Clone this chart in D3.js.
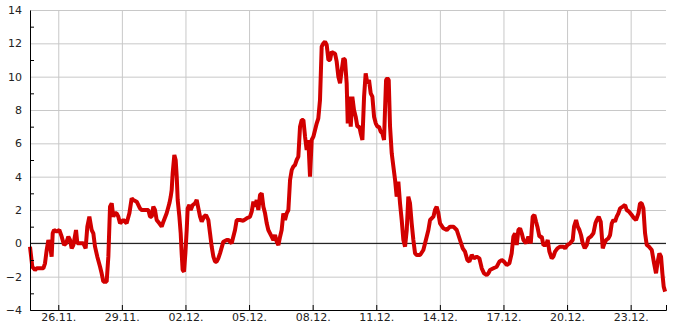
<!DOCTYPE html>
<html>
<head>
<meta charset="utf-8">
<style>
  body { margin: 0; background: #fff; }
  svg text { font-family: "DejaVu Sans", sans-serif; font-size: 11px; fill: #222; }
</style>
</head>
<body>
<svg id="chart" width="685" height="330"></svg>
<script src="https://cdn.jsdelivr.net/npm/d3@7"></script>
<script>

// hours since 24.11. 16:00
var hours = [0, 2.6, 5.7, 7.5, 11.3, 15.1, 17.0, 18.9, 20.8, 22.6, 24.5, 25.7, 27.2, 30.2, 33.2, 35.9,
  38.5, 40.8, 43.4, 45.3, 47.2, 49.1, 52.1, 53.6, 56.6, 60.4, 63.0, 64.9, 67.2, 69.8, 71.7, 73.6,
  76.2, 79.3, 81.1, 83.0, 86.8, 88.7, 90.6, 92.5, 94.3, 96.2, 98.1, 100.0, 101.9, 105.7, 109.4, 112.5,
  115.1, 117.0, 120.8, 124.5, 126.4, 130.2, 134.0, 135.9, 137.8, 139.6, 141.5, 143.4, 146.4, 149.1,
  151.0, 154.7, 157.8, 159.3, 160.4, 161.5, 163.4, 164.9, 166.1, 167.2, 169.1, 170.6, 171.7, 172.8,
  174.4, 175.9, 177.4, 178.5, 180.4, 181.9, 184.2, 186.8, 188.7, 190.6, 192.5, 194.4, 197.0, 199.3,
  201.9, 203.8, 205.7, 207.6, 209.5, 211.3, 213.2, 215.1, 218.9, 222.7, 224.6, 228.3, 232.1, 234.0,
  237.8, 241.5, 245.3, 249.1, 251.0, 252.9, 254.7, 256.6, 258.5, 260.4, 262.3, 264.2, 266.1, 268.0,
  269.8, 271.7, 273.6, 275.5, 277.4, 279.3, 281.2, 283.1, 284.9, 286.8, 288.7, 290.6, 292.5, 294.4,
  296.3, 298.1, 300.0, 301.9, 303.8, 305.7, 307.6, 309.5, 311.4, 313.2, 315.1, 317.0, 318.9, 320.8,
  322.7, 324.6, 326.4, 328.3, 330.2, 332.1, 334.0, 335.9, 337.8, 339.7, 341.5, 343.4, 345.3, 347.2,
  349.1, 351.0, 352.9, 354.8, 356.6, 358.5, 359.7, 361.2, 363.1, 364.9, 366.8, 368.7, 370.6, 372.9,
  374.4, 376.3, 378.2, 380.0, 381.9, 383.8, 385.7, 387.6, 389.5, 391.4, 393.3, 395.1, 397.0, 398.9,
  400.8, 401.9, 403.1, 404.6, 406.1, 407.6, 409.5, 411.4, 413.3, 415.1, 417.0, 418.9, 420.8, 422.7,
  424.6, 426.5, 428.3, 430.2, 432.1, 434.0, 435.9, 437.8, 441.6, 445.3, 449.1, 451.0, 452.9, 456.7,
  458.5, 460.4, 462.3, 464.2, 468.0, 471.8, 475.5, 479.3, 483.1, 486.8, 489.9, 492.5, 495.1, 497.4,
  500.1, 502.7, 505.7, 508.7, 511.4, 514.0, 517.0, 518.9, 520.8, 524.6, 528.4, 531.4, 534.0, 536.7,
  539.7, 542.7, 545.3, 547.2, 549.1, 551.0, 552.9, 554.8, 556.7, 558.6, 561.6, 564.2, 566.9, 569.1,
  571.0, 572.9, 574.4, 576.7, 579.3, 581.2, 584.2, 586.1, 588.0, 590.6, 592.5, 594.4, 597.1, 600.1,
  603.8, 605.7, 608.4, 611.4, 614.4, 615.9, 618.2, 620.1, 622.0, 623.8, 625.7, 628.0, 630.3, 632.1,
  634.8, 637.8, 640.1, 641.6, 643.8, 646.1, 648.4, 650.3, 652.2, 654.8, 656.7, 658.6, 660.5, 662.3,
  664.2, 666.1, 668.0, 671.0, 673.7, 675.5, 678.2, 681.2, 683.9, 686.1, 688.8, 690.6, 692.5, 694.4,
  696.3, 698.2, 700.8, 703.9, 706.5, 708.7, 710.6, 712.5, 714.4, 715.9, 717.4, 719.0];

var temps = [-0.2, -1.4, -1.6, -1.5, -1.5, -1.5, -1.2, -0.4, 0.2, -0.1, -0.8, 0.6, 0.8, 0.7, 0.8, 0.4,
  -0.1, 0.0, 0.4, 0.2, -0.3, -0.1, 0.8, 0.0, 0.0, 0.0, -0.3, 1.0, 1.6, 0.8, 0.6, -0.2,
  -0.8, -1.4, -1.8, -2.3, -2.3, -0.8, 2.2, 2.4, 1.6, 1.8, 1.8, 1.6, 1.2, 1.4, 1.2, 1.8,
  2.7, 2.6, 2.5, 2.1, 2.0, 2.0, 2.0, 1.6, 1.6, 2.2, 2.0, 1.4, 1.2, 1.0,
  1.3, 1.8, 2.4, 2.8, 3.2, 4.2, 5.3, 5.0, 4.0, 2.6, 1.6, 0.6, -0.6, -1.6,
  -1.7, -0.6, 0.8, 2.1, 2.3, 2.0, 2.3, 2.4, 2.6, 2.1, 1.6, 1.3, 1.6, 1.7,
  1.4, 0.6, -0.2, -0.8, -1.1, -1.1, -0.9, -0.6, 0.1, 0.2, 0.2, 0.0, 0.8, 1.4,
  1.4, 1.36, 1.5, 1.6, 1.9, 2.5, 2.2, 2.6, 2.0, 2.9, 3.0, 2.2, 1.8, 1.2,
  0.8, 0.6, 0.4, 0.2, 0.5, 0.1, -0.1, 0.4, 0.8, 1.8, 1.4, 1.8, 2.0, 3.8,
  4.4, 4.6, 4.7, 5.0, 5.2, 7.0, 7.4, 7.4, 6.4, 5.6, 6.2, 4.0, 6.2, 6.4,
  6.8, 7.2, 7.5, 8.6, 11.8, 12.0, 12.1, 11.9, 11.0, 11.0, 11.5, 11.4, 11.4, 10.9,
  10.0, 9.6, 10.4, 11.1, 11.0, 9.6, 7.2, 8.8, 7.0, 8.8, 8.0, 7.6, 7.0, 7.0,
  6.6, 6.2, 8.8, 10.2, 9.6, 9.8, 9.0, 8.8, 7.6, 7.2, 7.0, 7.0, 6.7, 6.6,
  6.2, 8.0, 9.8, 9.9, 9.8, 7.0, 5.4, 4.6, 3.8, 2.8, 3.7, 2.4, 1.4, 0.2,
  -0.2, 0.8, 2.8, 2.4, 1.2, 0.2, -0.6, -0.7, -0.7, -0.4, 0.4, 0.8, 1.4, 1.6,
  2.0, 2.2, 1.8, 1.2, 0.9, 0.8, 1.0, 1.0, 0.8, 0.2, -0.3, -0.5, -1.0, -1.1,
  -0.7, -0.9, -0.8, -0.9, -1.5, -1.8, -1.9, -1.8, -1.6, -1.5, -1.4, -1.1, -1.0, -1.1,
  -1.3, -1.2, -0.6, 0.4, 0.6, -0.1, 0.8, 0.9, 0.6, 0.2, 0.0, 0.4, 0.0, 1.6,
  1.7, 1.3, 1.0, 0.4, 0.4, -0.1, -0.1, 0.2, -0.5, -0.9, -0.8, -0.5, -0.3, -0.2,
  -0.2, -0.3, -0.1, 0.0, 0.2, 1.0, 1.4, 1.0, 0.8, 0.5, 0.0, -0.3, -0.1, 0.3,
  0.4, 0.6, 1.2, 1.4, 1.6, 1.3, -0.3, 0.0, 0.2, 0.3, 0.5, 1.2, 1.4, 1.3,
  1.6, 1.8, 2.1, 2.2, 2.3, 2.0, 1.9, 1.7, 1.5, 1.4, 1.8, 2.4, 2.4, 2.1,
  0.6, -0.1, -0.2, -0.4, -1.2, -1.8, -1.1, -0.6, -0.8, -1.8, -2.6, -2.9];

var yTicks = [-4, -2, 0, 2, 4, 6, 8, 10, 12, 14];
var yMinor = [-3, -1, 1, 3, 5, 7, 9, 11, 13];
var xTickDays = ["2023-11-26", "2023-11-29", "2023-12-02", "2023-12-05", "2023-12-08",
  "2023-12-11", "2023-12-14", "2023-12-17", "2023-12-20", "2023-12-23"];

var start = new Date(2023, 10, 24, 16);
var end = d3.timeHour.offset(start, 720);

var svg = d3.select("#chart"),
    margin = {top: 10, right: 19, bottom: 20, left: 30},
    width = +svg.attr("width") - margin.left - margin.right,
    height = +svg.attr("height") - margin.top - margin.bottom,
    g = svg.append("g").attr("transform", "translate(" + margin.left + "," + margin.top + ")");

var parseDay = d3.timeParse("%Y-%m-%d");
var xTicks = xTickDays.map(parseDay);

var x = d3.scaleTime().domain([start, end]).range([0, width]);
var y = d3.scaleLinear().domain([-4, 14]).range([height, 0]);

var data = hours.map(function(h, i) {
  return {t: new Date(start.getTime() + h * 3600e3), v: temps[i]};
});

// grid
g.append("g").attr("class", "grid")
    .call(d3.axisLeft(y).tickValues(yTicks).tickSize(-width).tickFormat(""))
    .call(function(s) { s.select(".domain").remove(); })
    .selectAll("line").attr("stroke", "#c8c8c8");
g.append("g").attr("class", "grid")
    .attr("transform", "translate(0," + height + ")")
    .call(d3.axisBottom(x).tickValues(xTicks).tickSize(-height).tickFormat(""))
    .call(function(s) { s.select(".domain").remove(); })
    .selectAll("line").attr("stroke", "#c8c8c8");

// zero line
g.append("line")
    .attr("x1", 0).attr("x2", width)
    .attr("y1", y(0)).attr("y2", y(0))
    .attr("stroke", "#000");

// the curve
var line = d3.line()
    .x(function(d) { return x(d.t); })
    .y(function(d) { return y(d.v); });

g.append("path")
    .datum(data)
    .attr("fill", "none")
    .attr("stroke", "#d20000")
    .attr("stroke-width", 4)
    .attr("stroke-linejoin", "bevel")
    .attr("d", line);

// axes
var yAxis = g.append("g")
    .call(d3.axisLeft(y).tickValues(yTicks).tickSize(0).tickPadding(8));
yAxis.select(".domain").attr("stroke", "#000");

g.append("g")
    .call(d3.axisLeft(y).tickValues(yMinor).tickSize(-4).tickFormat(""))
    .call(function(s) { s.select(".domain").remove(); })
    .selectAll("line").attr("stroke", "#000");

var xAxis = g.append("g")
    .attr("transform", "translate(0," + height + ")")
    .call(d3.axisBottom(x).tickValues(xTicks).tickSize(-5).tickPadding(3)
      .tickFormat(d3.timeFormat("%d.%m.")));
xAxis.select(".domain").attr("stroke", "#000");
xAxis.selectAll("line").attr("stroke", "#000");

svg.selectAll(".tick text").attr("fill", "#222").style("font-size", "11px")
    .style("font-family", "DejaVu Sans");

</script>
</body>
</html>
